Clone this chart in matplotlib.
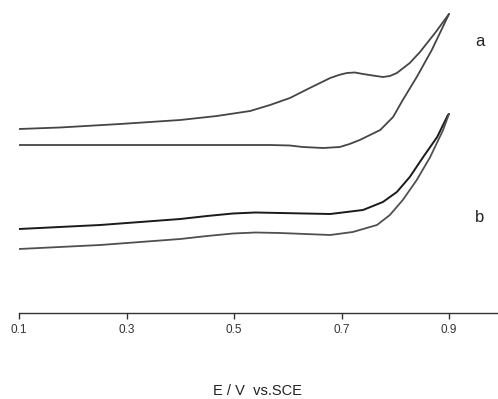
import matplotlib
matplotlib.use("Agg")
import matplotlib.pyplot as plt

plt.rcParams['font.family'] = ['Liberation Sans', 'DejaVu Sans']

# Cyclic voltammograms (potential in V vs. SCE, current in arbitrary units)
a_fwd_E = [0.100, 0.176, 0.288, 0.400, 0.468, 0.530, 0.567, 0.604, 0.641, 0.679,
           0.695, 0.710, 0.725, 0.740, 0.758, 0.777, 0.790, 0.803, 0.827, 0.846,
           0.874, 0.900]
a_fwd_I = [184, 185.5, 189, 193, 197, 202, 208, 215, 225, 235,
           238, 240, 240.5, 239, 237.5, 236, 237, 240, 250, 261,
           280, 299]

a_rev_E = [0.100, 0.400, 0.567, 0.604, 0.628, 0.666, 0.697, 0.715, 0.734, 0.772,
           0.796, 0.814, 0.840, 0.868, 0.900]
a_rev_I = [168, 168, 168, 167.5, 166, 165, 166, 169, 173, 183,
           196, 213, 236, 263, 299]

b_fwd_E = [0.100, 0.251, 0.400, 0.450, 0.498, 0.540, 0.586, 0.679, 0.740, 0.777,
           0.803, 0.827, 0.852, 0.878, 0.898, 0.900]
b_fwd_I = [84, 88, 94, 97, 99.5, 100.5, 100, 99, 103, 111,
           121, 136, 156, 176, 198, 199]

b_rev_E = [0.100, 0.251, 0.400, 0.450, 0.498, 0.540, 0.586, 0.679, 0.721, 0.766,
           0.790, 0.814, 0.840, 0.865, 0.889, 0.900]
b_rev_I = [64, 68, 74, 77, 79.5, 80.5, 80, 78, 81, 88,
           98, 113, 133, 156, 183, 199]

xticks = [0.1, 0.3, 0.5, 0.7, 0.9]
xtick_labels = ["0.1", "0.3", "0.5", "0.7", "0.9"]

fig = plt.figure(figsize=(4.98, 3.99), dpi=100)
ax = fig.add_axes([19 / 498, 1 - 313 / 399, 479 / 498, 313 / 399])

line_kw = dict(solid_joinstyle="round", solid_capstyle="round")
ax.plot(a_fwd_E, a_fwd_I, color="#454545", lw=1.3, **line_kw)
ax.plot(a_rev_E, a_rev_I, color="#454545", lw=1.3, **line_kw)
ax.plot(b_fwd_E, b_fwd_I, color="#1a1a1a", lw=1.4, **line_kw)
ax.plot(b_rev_E, b_rev_I, color="#505050", lw=1.3, **line_kw)

ax.set_xlim(0.1, 0.1 + 479 / 537.5)
ax.set_ylim(0, 313)

for s in ("top", "right", "left"):
    ax.spines[s].set_visible(False)
ax.spines["bottom"].set_color("#333333")
ax.spines["bottom"].set_linewidth(1.0)
ax.set_yticks([])
ax.set_xticks(xticks)
ax.set_xticklabels(xtick_labels, fontsize=8.5, color="#333333")
ax.tick_params(axis="x", direction="out", length=4, width=1, color="#333333", pad=4)

ax.text(0.9 + 31 / 537.5, 313 - 42, "a", fontsize=12, ha="center", va="center", color="#222222")
ax.text(0.9 + 31 / 537.5, 313 - 217, "b", fontsize=12, ha="center", va="center", color="#222222")

fig.text(257 / 498, 1 - 391 / 399, "E / V  vs.SCE", fontsize=10.5, ha="center", va="center",
         color="#222222")

fig.savefig("out.png", dpi=100)
